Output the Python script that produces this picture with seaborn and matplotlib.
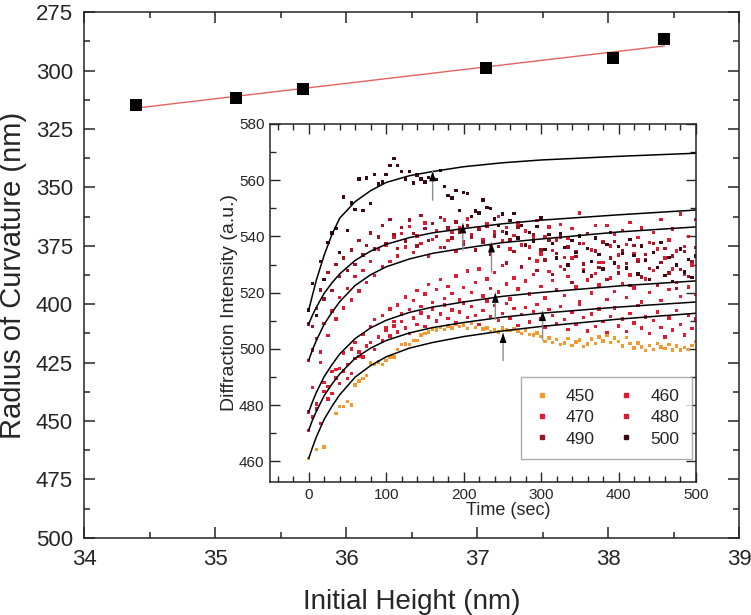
import numpy as np
import pandas as pd
import matplotlib
matplotlib.use('Agg')
import matplotlib.pyplot as plt
from matplotlib.ticker import MultipleLocator
from matplotlib.lines import Line2D
import seaborn as sns

nan = np.nan

# ---------------- main panel: radius of curvature vs initial height ----------------
heights = [34.40, 35.16, 35.67, 37.07, 38.04, 38.43]
radius = [314.7, 311.8, 307.8, 298.7, 294.4, 286.4]
fit_h = [34.40, 38.43]
fit_r = [316.0, 289.4]

# ---------------- inset: diffraction intensity vs time ----------------
t_sec = list(range(0, 501, 5))

i450 = [461.0, nan, 464.2, nan, 465.2, nan, nan, 477.0, 479.6, 479.6,
        481.4, 480.1, 487.2, 488.6, 489.6, 490.5, 495.0, 494.4, 495.3, 494.4,
        496.0, 497.2, 497.2, 499.9, 501.5, 501.8, 501.5, 503.1, 503.1, 504.9,
        505.5, 506.1, 507.0, 506.7, 507.7, 506.9, 508.2, 507.5, 508.7, 507.9,
        508.5, 507.3, 509.1, 507.7, 508.6, 507.1, 507.5, 506.3, 506.9, 506.0,
        507.5, 506.7, 506.5, 507.1, 506.2, 505.6, 506.5, 505.2, 504.9, 505.7,
        504.5, 502.6, 503.9, 502.2, 503.3, 501.5, 502.1, 503.7, 501.3, 502.5,
        503.2, 500.9, 501.7, 503.5, 502.0, 504.3, 502.9, 504.7, 502.3, 503.9,
        502.7, 501.1, 504.1, 501.9, 500.3, 502.1, 500.7, 499.5, 501.3, 499.9,
        501.9, 500.7, 500.1, 501.5, 499.7, 501.1, 499.6, 500.5, 499.9, 501.3,
        502.7]
i460 = [471.1, 475.8, 478.6, 473.4, 484.8, 482.2, 484.2, 489.7, 487.8, 492.1,
        494.5, 491.3, 496.7, 498.9, 497.1, 501.1, 502.2, 499.9, 504.4, 503.0,
        506.8, 504.6, 508.2, 506.0, 509.8, 507.4, 505.4, 511.0, 508.6, 512.8,
        508.0, 511.4, 514.2, 510.0, 512.4, 515.6, 510.8, 513.8, 509.4, 513.2,
        516.4, 511.2, 515.0, 512.0, 508.8, 513.6, 517.0, 511.6, 515.4, 510.2,
        512.6, 516.2, 511.0, 514.4, 508.4, 512.2, 514.8, 509.6, 513.4, 515.8,
        510.6, 507.8, 514.0, 511.8, 509.0, 515.2, 510.4, 507.0, 513.0, 508.6,
        516.0, 511.2, 506.4, 512.4, 508.0, 514.2, 509.8, 505.8, 511.6, 514.6,
        508.2, 510.6, 506.2, 512.6, 509.2, 515.4, 507.4, 511.4, 505.4, 510.2,
        513.2, 507.6, 504.2, 511.0, 506.8, 513.6, 508.6, 505.0, 512.0, 507.2,
        510.6]
i470 = [477.6, 486.2, 480.4, 495.1, 488.0, 486.6, 491.9, 492.7, 493.1, 498.6,
        489.4, 500.0, 502.4, 497.4, 505.2, 501.2, 508.0, 510.4, 504.0, 511.8,
        507.6, 514.2, 509.8, 515.6, 512.4, 518.5, 514.0, 517.3, 520.7, 515.2,
        519.5, 522.9, 516.6, 521.1, 524.7, 517.9, 522.3, 519.7, 525.9, 517.4,
        521.9, 527.7, 520.1, 523.7, 528.5, 518.9, 524.9, 521.5, 527.1, 520.3,
        529.7, 523.1, 517.7, 525.3, 521.3, 528.9, 524.1, 519.5, 526.5, 531.3,
        522.3, 518.1, 527.5, 524.3, 520.9, 529.3, 519.1, 525.7, 532.3, 522.1,
        516.9, 528.3, 524.5, 519.9, 526.9, 522.7, 530.7, 517.5, 525.3, 520.5,
        529.1, 523.3, 518.3, 526.3, 521.7, 531.9, 516.7, 524.9, 520.1, 527.9,
        522.5, 517.3, 526.1, 521.1, 528.5, 523.7, 518.7, 526.7, 522.1, 529.9,
        519.3]
i480 = [496.0, 499.7, 503.7, 498.9, 509.1, 504.7, 513.5, 510.6, 518.2, 514.5,
        521.6, 517.4, 525.7, 520.6, 528.0, 523.7, 531.1, 526.1, 535.6, 529.4,
        537.0, 531.2, 539.6, 533.0, 541.0, 536.2, 543.6, 534.4, 540.2, 537.4,
        544.8, 533.0, 539.0, 542.2, 536.0, 545.8, 538.6, 541.4, 534.6, 543.0,
        538.0, 546.2, 540.8, 535.4, 542.6, 539.0, 544.4, 536.8, 541.6, 547.0,
        538.4, 543.2, 535.6, 540.4, 544.8, 537.0, 542.0, 536.2, 539.8, 545.6,
        533.8, 540.0, 543.4, 535.0, 538.8, 544.2, 532.6, 539.4, 542.8, 534.6,
        548.4, 537.6, 541.0, 535.2, 543.8, 530.8, 538.0, 544.0, 536.6, 540.6,
        533.4, 542.2, 537.2, 545.0, 534.0, 539.6, 543.0, 531.8, 537.8, 541.4,
        535.6, 546.0, 532.4, 538.8, 542.6, 534.8, 548.0, 536.4, 540.0, 530.0,
        546.0]
i490 = [508.9, 507.9, 514.4, 521.0, 517.8, 527.1, 520.8, 530.0, 525.7, 532.4,
        527.8, 535.2, 530.0, 538.6, 533.4, 536.8, 541.2, 535.6, 539.8, 544.0,
        537.4, 546.0, 540.6, 535.8, 543.2, 538.4, 545.8, 541.0, 536.6, 547.4,
        542.8, 538.6, 544.6, 540.0, 546.8, 536.0, 543.0, 539.4, 545.2, 541.6,
        537.2, 544.0, 539.8, 535.2, 542.4, 538.0, 543.6, 533.8, 540.2, 536.4,
        541.8, 530.6, 538.8, 534.6, 543.4, 529.4, 537.0, 532.2, 540.6, 527.8,
        535.2, 531.6, 538.6, 526.4, 534.0, 539.8, 528.2, 536.2, 523.6, 532.8,
        537.6, 530.2, 541.0, 526.0, 534.8, 529.0, 537.8, 524.8, 532.4, 538.2,
        527.0, 535.0, 530.4, 522.6, 536.8, 531.0, 525.6, 533.6, 528.6, 537.4,
        523.0, 530.8, 535.8, 527.0, 533.0, 521.6, 528.2, 534.6, 525.8, 531.2,
        536.0]
i500 = [513.9, 523.2, 511.8, 531.0, 524.8, 537.8, 541.2, 542.8, 534.2, 554.1,
        542.2, 551.9, 549.6, 560.5, 549.3, 560.8, 551.7, 562.0, 558.6, 559.3,
        562.0, 565.2, 567.8, 565.2, 563.2, 560.5, 563.2, 559.0, 561.8, 560.5,
        559.3, 561.0, 560.5, 560.2, 563.5, 557.7, 554.6, 553.7, 556.3, 549.2,
        555.7, 555.3, 547.1, 549.0, 548.4, 552.9, 550.3, 550.0, 546.2, 543.8,
        548.0, 541.2, 545.6, 548.2, 539.5, 544.0, 536.8, 541.5, 538.2, 543.6,
        546.5, 535.4, 540.8, 537.6, 532.4, 541.0, 536.0, 529.8, 538.6, 534.2,
        540.2, 527.6, 535.8, 531.0, 539.4, 533.6, 528.4, 537.2, 541.4, 530.6,
        536.4, 534.0, 528.8, 539.0, 533.2, 526.6, 536.6, 531.4, 524.8, 534.4,
        529.0, 537.8, 526.2, 532.6, 524.0, 529.8, 535.6, 527.4, 531.8, 525.4,
        533.0]

curve_t = [0, 5, 10, 20, 30, 40, 60, 80, 100, 130, 160, 200, 250, 300, 400, 500]
fit450 = [461.1, 465.1, 468.8, 475.0, 479.6, 483.7, 490.0, 494.1, 497.2, 500.3, 502.3, 504.4, 506.4, 508.0, 510.6, 512.7]
fit460 = [471.1, 474.8, 477.9, 483.4, 487.5, 491.1, 496.7, 500.3, 503.0, 505.7, 507.6, 509.4, 511.3, 512.7, 514.9, 516.7]
fit470 = [477.6, 481.3, 484.6, 490.2, 494.4, 498.2, 503.7, 507.5, 510.2, 513.0, 514.9, 516.7, 518.7, 520.1, 522.4, 524.2]
fit480 = [496.0, 499.8, 503.1, 508.8, 513.0, 516.8, 522.6, 526.4, 529.2, 532.0, 534.0, 535.8, 537.8, 539.1, 541.6, 543.4]
fit490 = [508.9, 512.1, 514.9, 519.8, 523.5, 526.7, 531.5, 534.8, 537.2, 539.6, 541.3, 542.8, 544.5, 545.8, 547.7, 549.4]
fit500 = [513.8, 519.3, 524.6, 533.4, 540.7, 546.5, 552.4, 556.3, 559.2, 561.6, 563.1, 564.8, 566.2, 567.2, 568.5, 569.6]

# arrows (time, tail, tip)
arrow_t = [160, 199, 236, 241, 302, 251]
arrow_tail = [552.9, 535.2, 527.3, 510.5, 503.2, 495.9]
arrow_tip = [563.1, 544.6, 537.8, 519.9, 513.4, 505.6]

series_names = ['450', '460', '470', '480', '490', '500']
series_vals = [i450, i460, i470, i480, i490, i500]
fit_vals = [fit450, fit460, fit470, fit480, fit490, fit500]
colors = {'450': '#f29a2e', '460': '#e3192f', '470': '#e11d34', '480': '#dc1a30',
          '490': '#9c1424', '500': '#3a0a12'}

df = pd.concat([pd.DataFrame({'time': t_sec, 'intensity': v, 'series': n})
                for n, v in zip(series_names, series_vals)], ignore_index=True)

sns.set_style('ticks')
plt.rcParams['font.family'] = ['Liberation Sans', 'DejaVu Sans']

fig = plt.figure(figsize=(7.51, 6.15), dpi=100)

# ===== main axes =====
ax = fig.add_axes([0.1119, 0.1257, 0.8722, 0.8543])
sns.lineplot(x=fit_h, y=fit_r, color='#e4625e', lw=1.0, ax=ax)
sns.scatterplot(x=heights, y=radius, marker='s', s=85, color='black',
                edgecolor='black', linewidth=0, ax=ax, zorder=3)
ax.set_xlim(34, 39)
ax.set_ylim(500, 275)
ax.xaxis.set_major_locator(MultipleLocator(1))
ax.xaxis.set_minor_locator(MultipleLocator(0.5))
ax.yaxis.set_major_locator(MultipleLocator(25))
ax.yaxis.set_minor_locator(MultipleLocator(12.5))
ax.tick_params(which='both', direction='in', top=True, right=True, width=1.1)
ax.tick_params(which='major', length=8, labelsize=16, pad=8)
ax.tick_params(which='minor', length=4.5)
for s in ax.spines.values():
    s.set_linewidth(1.1)
ax.set_xlabel('Initial Height (nm)', fontsize=20, labelpad=14)
ax.set_ylabel('Radius of Curvature (nm)', fontsize=21, labelpad=6)

# ===== inset =====
axin = fig.add_axes([0.3595, 0.2163, 0.5672, 0.5821])
sns.scatterplot(data=df, x='time', y='intensity', hue='series', palette=colors,
                marker='s', s=6, linewidth=0, legend=False, ax=axin)
for fv in fit_vals:
    sns.lineplot(x=curve_t, y=fv, color='black', lw=1.1, ax=axin)
# gray shaft + black head
for t, a, b in zip(arrow_t, arrow_tail, arrow_tip):
    axin.annotate('', xy=(t, b), xytext=(t, a),
                  arrowprops=dict(arrowstyle='-', color='#8c8c8c', lw=1.0,
                                  shrinkA=0, shrinkB=0))
    axin.annotate('', xy=(t, b), xytext=(t, b - 2.5),
                  arrowprops=dict(arrowstyle='-|>,head_length=0.55,head_width=0.2',
                                  color='black', lw=0.8, shrinkA=0, shrinkB=0))
axin.set_xlim(-50, 500)
axin.set_ylim(452.7, 580)
axin.xaxis.set_major_locator(MultipleLocator(100))
axin.xaxis.set_minor_locator(MultipleLocator(20))
axin.yaxis.set_major_locator(MultipleLocator(20))
axin.yaxis.set_minor_locator(MultipleLocator(10))
axin.tick_params(which='both', direction='in', top=True, right=True, width=1.0)
axin.tick_params(which='major', length=7, labelsize=11, pad=4)
axin.tick_params(which='minor', length=4)
for s in axin.spines.values():
    s.set_linewidth(1.1)
axin.set_xlabel('Time (sec)', fontsize=13, labelpad=0)
axin.xaxis.set_label_coords(0.56, -0.055)
axin.set_ylabel('Diffraction Intensity (a.u.)', fontsize=14, labelpad=1)

order = ['450', '470', '490', '460', '480', '500']
handles = [Line2D([], [], marker='s', ls='none', ms=2.4, color=colors[n]) for n in order]
leg = axin.legend(handles, order, ncol=2, loc='lower left', bbox_to_anchor=(0.589, 0.065),
                  borderaxespad=0, fontsize=12.5, frameon=True, fancybox=False,
                  edgecolor='#999999', handlelength=1.0, handletextpad=0.9,
                  columnspacing=1.3, labelspacing=0.35, borderpad=0.7)
leg.get_frame().set_linewidth(1.0)

fig.savefig('out.png', dpi=100)
